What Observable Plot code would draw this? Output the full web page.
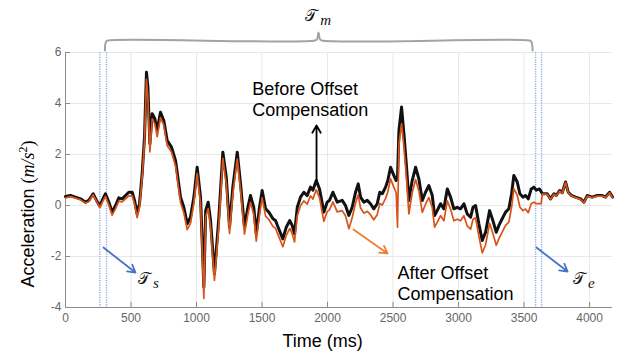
<!DOCTYPE html>
<html><head><meta charset="utf-8">
<script src="https://cdn.jsdelivr.net/npm/d3@7"></script>
<script src="https://cdn.jsdelivr.net/npm/@observablehq/plot@0.6"></script>
<style>body{margin:0;background:#fff}</style>
</head><body><div id="chart"></div>
<script>
// ---- data ----
const time = [0,38,76,115,153,178,211,237,262,280,305,331,356,382,407,433,458,483,509,527,547,565,585,603,618,629,644,662,682,700,725,750,776,809,840,878,903,929,954,980,1005,1031,1056,1070,1089,1107,1137,1170,1201,1227,1252,1277,1311,1336,1366,1392,1412,1437,1456,1481,1501,1527,1552,1583,1603,1628,1659,1685,1712,1730,1748,1769,1794,1819,1845,1870,1888,1914,1939,1972,1997,2015,2041,2074,2112,2137,2163,2188,2214,2234,2252,2277,2303,2328,2353,2379,2399,2418,2443,2460,2481,2506,2524,2534,2545,2565,2583,2603,2621,2646,2672,2697,2723,2748,2773,2799,2817,2837,2863,2888,2914,2939,2964,2990,3015,3041,3066,3092,3110,3130,3155,3181,3206,3237,3262,3288,3308,3333,3359,3384,3405,3422,3448,3468,3491,3511,3532,3555,3575,3593,3618,3630,3640,3677,3702,3728,3746,3771,3791,3817,3837,3863,3893,3931,3957,3982,4020,4058,4097,4122,4153,4175];
const before = [0.35,0.39,0.33,0.26,0.13,0.20,0.46,0.20,-0.03,0.20,0.46,0.13,-0.26,0.00,0.30,0.26,0.39,0.52,0.52,0.20,-0.33,0.08,1.24,2.68,5.23,4.64,2.42,3.60,3.40,2.94,3.66,3.33,2.55,2.29,1.76,0.33,-0.07,-0.72,-0.46,0.33,1.50,0.30,-3.20,-0.20,0.13,-0.59,-2.68,-0.50,2.09,1.11,-0.85,0.72,2.09,0.85,-0.85,-0.07,0.39,-0.07,-1.11,-0.07,0.59,-0.13,-0.26,-0.52,-0.59,-0.92,-1.31,-0.85,-0.59,-0.78,-1.11,-0.07,0.33,0.52,0.39,0.72,0.60,0.98,0.65,-0.26,0.13,0.20,0.52,0.13,0.20,0.00,-0.39,-0.07,0.52,0.85,0.33,0.13,0.20,0.07,-0.13,0.07,0.52,0.46,0.72,0.98,1.50,1.18,0.98,1.10,2.94,3.86,2.81,1.50,0.20,0.98,1.50,1.05,0.20,0.52,0.78,0.40,-0.39,-0.20,0.07,-0.13,0.65,0.33,-0.13,-0.07,-0.13,0.07,-0.33,-0.46,-0.07,0.00,-0.72,-1.37,-1.05,-0.20,-0.59,-1.05,-0.78,-0.52,-0.26,-0.13,0.46,1.18,0.92,0.46,0.33,0.39,0.26,0.65,0.72,0.60,0.65,0.55,0.46,0.46,0.26,0.46,0.39,0.59,0.50,0.92,0.52,0.39,0.33,0.26,0.13,0.39,0.33,0.39,0.39,0.33,0.52,0.33];
const after = [0.30,0.35,0.29,0.22,0.09,0.16,0.42,0.16,-0.07,0.12,0.36,0.02,-0.38,-0.12,0.17,0.14,0.26,0.38,0.38,0.06,-0.48,-0.05,1.10,2.50,4.95,4.20,2.10,3.40,3.20,2.70,3.45,3.15,2.35,2.10,1.55,0.12,-0.28,-0.95,-0.70,0.10,1.25,0.05,-3.65,-0.45,-0.12,-0.85,-2.94,-0.80,1.85,0.85,-1.10,0.45,1.82,0.60,-1.12,-0.35,0.12,-0.35,-1.40,-0.35,0.30,-0.42,-0.55,-0.82,-0.90,-1.22,-1.62,-1.17,-0.90,-1.10,-1.43,-0.40,0.00,0.18,0.05,0.38,0.25,0.62,0.30,-0.62,-0.24,-0.17,0.14,-0.25,-0.20,-0.40,-0.91,-0.48,0.10,0.42,-0.10,-0.30,-0.23,-0.36,-0.56,-0.36,0.08,0.02,0.28,0.53,1.05,0.72,0.50,-0.85,2.40,3.20,2.30,1.05,-0.33,0.50,1.02,0.58,-0.27,0.05,0.31,-0.07,-0.85,-0.66,-0.40,-0.60,0.18,-0.14,-0.60,-0.54,-0.60,-0.40,-0.80,-0.93,-0.55,-0.48,-1.20,-1.86,-1.55,-0.70,-1.10,-1.56,-1.30,-1.04,-0.78,-0.65,-0.06,0.66,0.40,-0.06,-0.20,-0.14,-0.28,0.08,0.13,0.07,0.07,0.07,0.46,0.44,0.24,0.44,0.37,0.57,0.48,0.90,0.50,0.37,0.31,0.24,0.11,0.37,0.31,0.37,0.37,0.31,0.50,0.31];
const xTicks = [0,500,1000,1500,2000,2500,3000,3500,4000];
const yTicks = [-4,-2,0,2,4,6];
const startLines = [262, 313];   // T_s boundary
const endLines = [3588, 3634];   // T_e boundary

const rows = time.map((t, i) => ({t, before: before[i], after: after[i]}));

const sans = "Liberation Sans, Arial, sans-serif";
const serif = "Liberation Serif, DejaVu Serif, serif";
const script = "DejaVu Serif, DejaVu Sans, Noto Sans, serif";
const SCRIPT_T = "\u{1D4AF}";

// annotation geometry (data coordinates)
const bracket = [[301,6.08],[303,6.3],[310,6.43],[325,6.47],[1905,6.47],[1920,6.52],[1931,6.78],[1942,6.52],[1957,6.47],[3540,6.47],[3555,6.43],[3562,6.3],[3565,6.08]];

const svg = Plot.plot({
  width: 627,
  height: 357,
  marginLeft: 65,
  marginRight: 15,
  marginTop: 52,
  marginBottom: 50,
  style: {fontFamily: sans, fontSize: "12px", color: "#666", background: "#fff"},
  x: {domain: [0, 4175], ticks: xTicks, tickSize: 0, tickPadding: 6, tickFormat: d => String(d), label: null},
  y: {domain: [-4, 6], ticks: yTicks, tickSize: 0, tickPadding: 4, tickFormat: d => String(d), label: null},
  marks: [
    Plot.ruleX(xTicks.slice(1), {stroke: "#e8e8e8", strokeWidth: 1}),
    Plot.ruleY(yTicks.slice(1), {stroke: "#e8e8e8", strokeWidth: 1}),
    Plot.ruleX(startLines.concat(endLines), {stroke: "#8fa9e6", strokeWidth: 1.4, strokeDasharray: "1.2,1.2"}),
    Plot.ruleY([-4], {stroke: "#8a8a8a", strokeWidth: 1}),
    Plot.ruleX([0], {stroke: "#8a8a8a", strokeWidth: 1}),
    Plot.ruleX(xTicks, {y1: -4, y2: -3.8, stroke: "#8a8a8a"}),
    Plot.ruleY(yTicks, {x1: 0, x2: 38, stroke: "#8a8a8a"}),
    Plot.line(rows, {x: "t", y: "before", stroke: "#111", strokeWidth: 3, strokeLinejoin: "round"}),
    Plot.line(rows, {x: "t", y: "after", stroke: "#D95319", strokeWidth: 1.7, strokeLinejoin: "round"}),
    // bracket T_m
    Plot.line(bracket, {x: d => d[0], y: d => d[1], stroke: "#a3a3a3", strokeWidth: 2, curve: "catmull-rom"}),
    Plot.text([SCRIPT_T], {x: 1830, y: 7.25, text: d => d, fontFamily: script, fontSize: 16, fill: "#111", textAnchor: "start", lineAnchor: "bottom"}),
    Plot.text(["m"], {x: 1945, y: 7.06, text: d => d, fontFamily: serif, fontStyle: "italic", fontSize: 15, fill: "#111", textAnchor: "start", lineAnchor: "bottom"}),
    // before offset annotation
    Plot.arrow([0], {x1: 1916, y1: 0.98, x2: 1916, y2: 3.14, stroke: "#000", strokeWidth: 1.8, headLength: 7}),
    Plot.text(["Before Offset\nCompensation"], {x: 1425, y: 4.94, text: d => d, fontFamily: sans, fontSize: 18, fill: "#000", textAnchor: "start", lineAnchor: "top", lineHeight: 1.2}),
    // after offset annotation
    Plot.arrow([0], {x1: 2198, y1: -0.94, x2: 2458, y2: -1.88, stroke: "#ef7d2f", strokeWidth: 1.8, headLength: 7}),
    Plot.text(["After Offset\nCompensation"], {x: 2534, y: -2.27, text: d => d, fontFamily: sans, fontSize: 18, fill: "#000", textAnchor: "start", lineAnchor: "top", lineHeight: 1.2}),
    // T_s and T_e
    Plot.arrow([0], {x1: 290, y1: -1.65, x2: 534, y2: -2.63, stroke: "#4472C4", strokeWidth: 1.8, headLength: 7}),
    Plot.arrow([0], {x1: 3595, y1: -1.65, x2: 3832, y2: -2.59, stroke: "#4472C4", strokeWidth: 1.8, headLength: 7}),
    Plot.text([SCRIPT_T], {x: 550, y: -3.06, text: d => d, fontFamily: script, fontSize: 16, fill: "#111", textAnchor: "start", lineAnchor: "bottom"}),
    Plot.text(["s"], {x: 668, y: -3.25, text: d => d, fontFamily: serif, fontStyle: "italic", fontSize: 15, fill: "#111", textAnchor: "start", lineAnchor: "bottom"}),
    Plot.text([SCRIPT_T], {x: 3870, y: -3.06, text: d => d, fontFamily: script, fontSize: 16, fill: "#111", textAnchor: "start", lineAnchor: "bottom"}),
    Plot.text(["e"], {x: 3988, y: -3.25, text: d => d, fontFamily: serif, fontStyle: "italic", fontSize: 15, fill: "#111", textAnchor: "start", lineAnchor: "bottom"}),
    // axis titles
    Plot.text(["Time (ms)"], {x: 1962, y: -5.53, text: d => d, fontFamily: sans, fontSize: 18, fill: "#000", textAnchor: "middle", lineAnchor: "bottom"}),
    Plot.text(["Acceleration (m/s2)"], {x: -244, y: -3.22, text: d => d, fontFamily: sans, fontSize: 18, fill: "#000", textAnchor: "start", lineAnchor: "bottom", rotate: -90})
  ]
});

// rich formatting of the y-axis title
d3.select(svg).selectAll("text").filter(function() { return this.textContent === "Acceleration (m/s2)"; })
  .each(function() {
    const t = d3.select(this);
    t.text(null);
    t.append("tspan").text("Acceleration ");
    t.append("tspan").attr("font-family", serif).text("(");
    t.append("tspan").attr("font-family", serif).attr("font-style", "italic").text("m/s");
    t.append("tspan").attr("font-family", serif).attr("font-size", "12px").attr("dy", "-7").text("2");
    t.append("tspan").attr("font-family", serif).attr("dy", "7").text(")");
  });

document.getElementById("chart").append(svg);
</script>
</body></html>
